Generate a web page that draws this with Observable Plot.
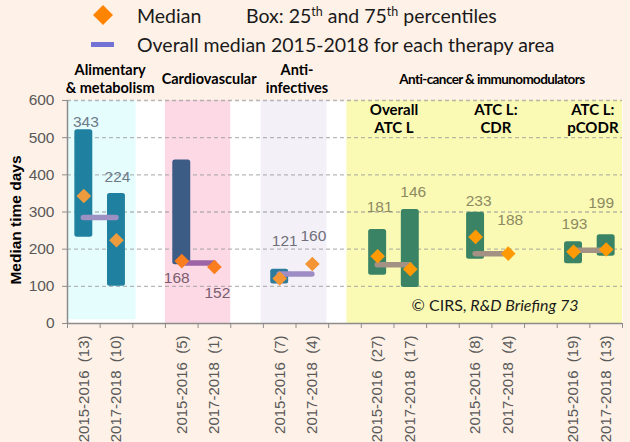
<!DOCTYPE html>
<html><head><meta charset="utf-8">
<script src="https://cdn.jsdelivr.net/npm/d3@7"></script>
<script src="https://cdn.jsdelivr.net/npm/@observablehq/plot@0.6"></script>
<style>
html,body{margin:0;padding:0}
body{background:#FEF1E7;width:630px;height:442px;overflow:hidden;font-family:"Liberation Sans",Arial,sans-serif}
#legend{position:relative;height:60px;font-family:Lato,"Open Sans",sans-serif;font-size:19.5px;color:#1a1a1a;line-height:22px}
#legend span{position:absolute;white-space:nowrap}
#legend sup{font-size:12.5px;position:relative;top:-7px;vertical-align:baseline}
#chart svg{display:block}
</style></head><body>
<div id="legend">
  <svg style="position:absolute;left:93px;top:5px" width="20" height="20"><path d="M10 0L20 10L10 20L0 10Z" fill="#FF8400"/></svg>
  <span style="left:137px;top:5px">Median</span>
  <span style="left:246px;top:5px">Box: 25<sup>th</sup> and 75<sup>th</sup> percentiles</span>
  <div style="position:absolute;left:91px;top:42px;width:23px;height:5px;background:#7373D6"></div>
  <span style="left:137px;top:34px">Overall median 2015-2018 for each therapy area</span>
</div>
<div id="chart"></div>
<script>
// ---- data ----
const groups = ["Alimentary & metabolism", "Cardiovascular", "Anti-infectives", "Overall ATC L", "ATC L: CDR", "ATC L: pCODR"];
const groupHeaders = ["Alimentary\n& metabolism", "Cardiovascular", "Anti-\ninfectives", "Overall\nATC L", "ATC L:\nCDR", "ATC L:\npCODR"];
const superHeader = "Anti-cancer & immunomodulators";
const periods = ["2015-2016", "2017-2018"];
const counts = [13, 10, 5, 1, 7, 4, 27, 17, 8, 4, 19, 13];
const medians = [343, 224, 168, 152, 121, 160, 181, 146, 233, 188, 193, 199];
const q25 = [232, 100, 158, null, 106, null, 130, 97, 173, null, 161, 181];
const q75 = [521, 350, 440, null, 146, null, 253, 307, 299, null, 220, 239];
const overallMedians = [285, 163, 133, 158, 188, 197];
const yTicks = [0, 100, 200, 300, 400, 500, 600];
const credit = ["© CIRS,", "R&D Briefing 73"];

// ---- styles ----
const boxColors = ["#20809F", "#3C5C86", "#2C7B9D", "#3A8364", "#3A8364", "#3A8364"];
const diamondColors = ["#EE9B3E", "#FA7D1E", "#F49535", "#FF9A05", "#FF9A05", "#FF9A05"];
const lineColors = ["#9D91C3", "#9C64A4", "#9D8DC4", "#A39184", "#A39184", "#A39184"];
const labelColors = ["#6C7A89", "#7A5E6E", "#6F6F78", "#8D8A62", "#8D8A62", "#8D8A62"];
const labelOffsets = [[2,-74],[1,-63],[-5,17],[3,26],[5,-37],[1,-28],[2,-49],[3,-77],[3,-36],[2,-34],[1,-28],[-5,-47]];
const headerDx = [10, 11, 1, 0, 4, 3];
// background bands: [first group, last group, left pad, right pad, bottom value, fill]
const bandSpec = [[0,0,0.5,0.6,10,"#E6FDFE"],[1,1,0.5,0.5,0,"#FDD9E6"],[2,2,0.57,0.45,0,"#F3F0F8"],[3,5,0.94,0.5,0,"#FAFAB5"]];

// ---- derived rows ----
const slotOf = (g, k) => g * 3 + k + 1;
const rows = medians.map((m, i) => {
  const g = Math.floor(i / 2), k = i % 2;
  return {g, k, slot: slotOf(g, k), median: m, q25: q25[i], q75: q75[i],
    label: `${periods[k]} \u00a0(${counts[i]})`};
});
const boxRows = rows.filter(d => d.q25 != null);
const overallRows = overallMedians.map((v, g) => ({g, v, s1: slotOf(g, 0), s2: slotOf(g, 1)}));
const bands = bandSpec.map(([a, b, pl, pr, y0, fill]) => ({x1: slotOf(a, 0) - pl, x2: slotOf(b, 1) + pr, y1: y0, fill}));
const nSlots = slotOf(groups.length - 1, 1);
const boundaries = d3.range(0, nSlots + 1).map(i => i + 0.5);
const tickSlots = rows.map(d => d.slot);
const labelBySlot = new Map(rows.map(d => [d.slot, d.label]));
const headerRows = groupHeaders.map((h, g) => ({h, g, x: (slotOf(g, 0) + slotOf(g, 1)) / 2}));
const superX = (slotOf(3, 0) + slotOf(5, 1)) / 2;

const grey = "#8C8C8C";
const marks = [
  Plot.frame({fill: "white", stroke: null}),
  Plot.rect(bands, {x1: "x1", x2: "x2", y1: "y1", y2: () => 600, fill: "fill"}),
  Plot.gridY(yTicks.filter(t => t > 0), {stroke: "#9A9A9A", strokeOpacity: 0.7, strokeDasharray: "4,3", strokeWidth: 1.3}),
  Plot.rect(boxRows, {x1: d => d.slot - 0.275, x2: d => d.slot + 0.275, y1: "q25", y2: "q75", fill: d => boxColors[d.g], rx: 2.5}),
  Plot.ruleY(overallRows, {y: "v", x1: "s1", x2: "s2", stroke: d => lineColors[d.g], strokeWidth: 5.5, strokeLinecap: "round"}),
  Plot.dot(rows, {x: "slot", y: "median", symbol: "diamond2", r: 6.6, fill: d => diamondColors[d.g], stroke: null}),
  ...rows.map((d, i) => Plot.text([d], {x: "slot", y: "median", text: d => String(d.median), dx: labelOffsets[i][0], dy: labelOffsets[i][1],
    fill: labelColors[d.g], fontSize: 15.5, fontFamily: "Liberation Sans"})),
  Plot.ruleY([0], {stroke: grey, strokeWidth: 1.5}),
  Plot.ruleX([0.5], {y1: 0, y2: 600, stroke: grey, strokeWidth: 1.5}),
  Plot.axisY({ticks: yTicks, tickSize: 5, tickPadding: 8, fontSize: 15.5, stroke: grey, fill: "#595959", label: null, tickFormat: d => String(d)}),
  Plot.axisX({ticks: boundaries, tickSize: 5, tickFormat: () => "", stroke: grey, label: null}),
  Plot.axisX({ticks: tickSlots, tickSize: 0, tickPadding: 12, tickRotate: -90, tickFormat: s => labelBySlot.get(s), fontSize: 15, fill: "#595959", label: null}),
  ...headerRows.slice(0, 3).map(d => Plot.text([d], {x: "x", text: "h", frameAnchor: "top", dx: headerDx[d.g], dy: -22, lineAnchor: "middle",
    lineHeight: 1.25, fontWeight: "bold", fontSize: 14.5, fontFamily: "Lato", fill: "#000"})),
  Plot.text([superHeader], {x: () => superX, text: d => d, frameAnchor: "top", dy: -21, lineAnchor: "middle",
    fontWeight: "bold", fontSize: 13.5, fontFamily: "Lato", fill: "#000"}),
  ...headerRows.slice(3).map(d => Plot.text([d], {x: "x", text: "h", frameAnchor: "top", dx: headerDx[d.g], dy: 18, lineAnchor: "middle",
    lineHeight: 1.15, fontWeight: "bold", fontSize: 15, fontFamily: "Lato", fill: "#000"})),
  Plot.text([credit[0]], {frameAnchor: "bottom-right", textAnchor: "end", dx: -156, dy: -18, fontSize: 16, fontFamily: "Lato", fill: "#1a1a1a", lineAnchor: "middle"}),
  Plot.text([credit[1]], {frameAnchor: "bottom-right", textAnchor: "end", dx: -44, dy: -18, fontSize: 16, fontFamily: "Lato", fontStyle: "italic", fill: "#1a1a1a", lineAnchor: "middle"}),
  Plot.text(["Median time days"], {frameAnchor: "left", textAnchor: "middle", rotate: -90, dx: -51, dy: 8, fontWeight: "bold", fontSize: 15.5, fill: "#000", fontFamily: "Liberation Sans"})
];

const chart = Plot.plot({
  width: 630, height: 382,
  marginTop: 40, marginBottom: 119, marginLeft: 67, marginRight: 8,
  style: {background: "transparent", fontFamily: "Liberation Sans"},
  x: {domain: [0.5, nSlots + 0.5]},
  y: {domain: [0, 600]},
  color: {type: "identity"},
  marks
});
document.getElementById("chart").append(chart);
chart.querySelectorAll("text").forEach(t => { if (t.textContent === superHeader) t.setAttribute("letter-spacing", "-0.6"); });
</script>
</body></html>
